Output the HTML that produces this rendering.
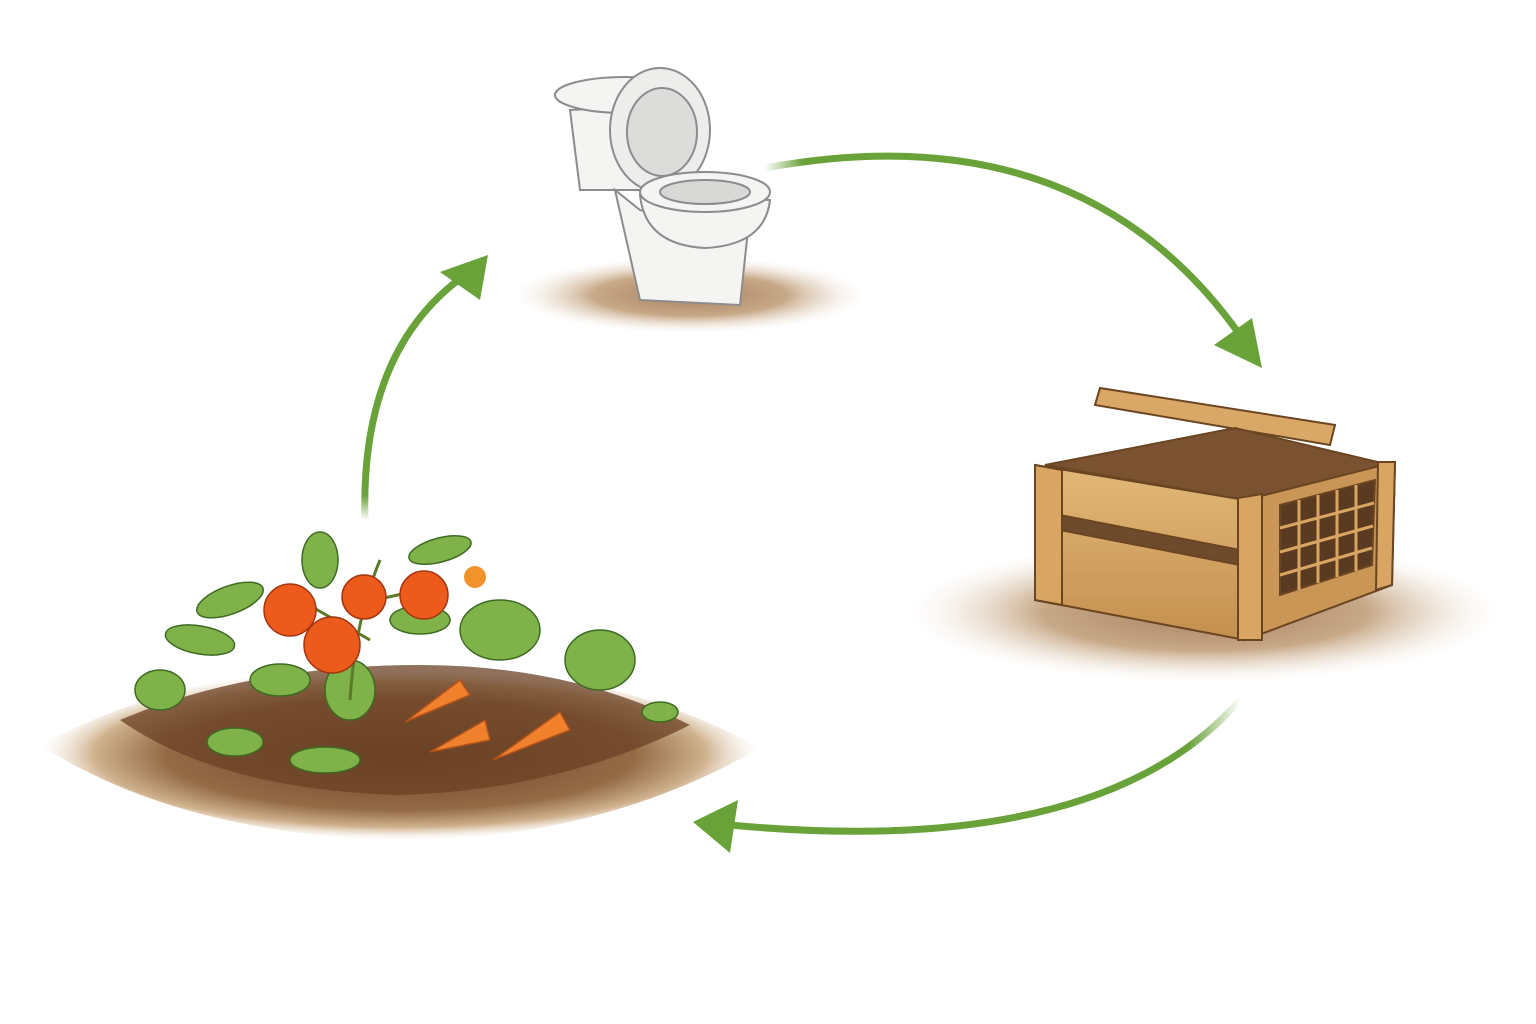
<!DOCTYPE html>
<html><head><meta charset="utf-8"><style>
html,body{margin:0;padding:0;background:#fff;}
svg{display:block;}
</style></head><body>
<svg width="1536" height="1024" viewBox="0 0 1536 1024" xmlns="http://www.w3.org/2000/svg">
<defs>
<radialGradient id="dirt" cx="50%" cy="50%" r="50%">
<stop offset="0" stop-color="#a98160"/><stop offset="0.55" stop-color="#c7a887"/><stop offset="1" stop-color="#f2e8dc" stop-opacity="0"/>
</radialGradient>
<radialGradient id="dirt2" cx="50%" cy="50%" r="50%">
<stop offset="0" stop-color="#6b4226"/><stop offset="0.65" stop-color="#946a46"/><stop offset="0.85" stop-color="#d0b28e"/><stop offset="1" stop-color="#f0e4d4" stop-opacity="0"/>
</radialGradient>
<linearGradient id="fade1" x1="0" y1="0" x2="1" y2="0"><stop offset="0" stop-color="#6aa23a" stop-opacity="0"/><stop offset="0.08" stop-color="#6aa23a"/><stop offset="1" stop-color="#6aa23a"/></linearGradient>
<linearGradient id="fade2" x1="1" y1="0" x2="0" y2="0"><stop offset="0" stop-color="#6aa23a" stop-opacity="0"/><stop offset="0.1" stop-color="#6aa23a"/><stop offset="1" stop-color="#6aa23a"/></linearGradient>
<linearGradient id="fade3" x1="0" y1="1" x2="0" y2="0"><stop offset="0" stop-color="#6aa23a" stop-opacity="0"/><stop offset="0.1" stop-color="#6aa23a"/><stop offset="1" stop-color="#6aa23a"/></linearGradient>
<linearGradient id="wood" x1="0" y1="0" x2="0" y2="1"><stop offset="0" stop-color="#e2b878"/><stop offset="1" stop-color="#c48f4e"/></linearGradient>
</defs>

<ellipse cx="690" cy="295" rx="175" ry="38" fill="url(#dirt)"/>
<g stroke="#8c8c8c" stroke-width="2" fill="#f4f4f2">
<path d="M570 110 L660 105 L655 190 L580 190 Z"/>
<ellipse cx="625" cy="95" rx="70" ry="18"/>
<path d="M615 190 L640 300 L740 305 L748 230 L640 210 Z"/>
<ellipse cx="660" cy="130" rx="50" ry="62" fill="#ededeb"/>
<ellipse cx="662" cy="132" rx="35" ry="44" fill="#dcdcda"/>
<path d="M640 195 Q645 245 705 248 Q765 245 770 200 Z"/>
<ellipse cx="705" cy="192" rx="65" ry="20"/>
<ellipse cx="705" cy="192" rx="45" ry="12" fill="#d8d8d6"/>
</g>

<path d="M765 168 Q1080 110 1240 335" fill="none" stroke="url(#fade1)" stroke-width="7"/>
<polygon points="1262,368 1214,345 1252,318" fill="#6aa23a"/>

<ellipse cx="1205" cy="612" rx="295" ry="70" fill="url(#dirt)"/>
<g stroke="#6b4522" stroke-width="2">
<polygon points="1100,388 1335,425 1330,445 1095,405" fill="#d9a766"/>
<polygon points="1045,465 1235,428 1390,465 1245,500" fill="#7a5232"/>
<polygon points="1035,465 1245,500 1245,640 1035,600" fill="url(#wood)"/>
<polygon points="1245,500 1395,462 1392,585 1245,640" fill="#c99656"/>
<polygon points="1060,515 1240,550 1240,565 1060,530" fill="#6e4a2c"/>
<polygon points="1280,505 1375,480 1372,565 1280,595" fill="#5a3a20"/>
<polygon points="1035,465 1062,470 1062,605 1035,600" fill="#d8a562"/>
<polygon points="1238,498 1262,494 1262,640 1238,640" fill="#d8a562"/>
<polygon points="1378,462 1395,462 1392,585 1376,590" fill="#d8a562"/>
</g>
<g stroke="#d8a562" stroke-width="3">
<line x1="1299" y1="500" x2="1299" y2="590"/><line x1="1318" y1="495" x2="1318" y2="583"/><line x1="1337" y1="490" x2="1337" y2="577"/><line x1="1356" y1="485" x2="1356" y2="571"/>
<line x1="1280" y1="528" x2="1374" y2="503"/><line x1="1280" y1="552" x2="1373" y2="526"/><line x1="1280" y1="575" x2="1372" y2="548"/>
</g>

<path d="M1240 700 Q1100 860 730 825" fill="none" stroke="url(#fade2)" stroke-width="7"/>
<polygon points="693,822 738,800 730,853" fill="#6aa23a"/>

<path d="M365 520 Q360 350 465 275" fill="none" stroke="url(#fade3)" stroke-width="7"/>
<polygon points="488,255 440,272 480,300" fill="#6aa23a"/>

<path d="M40 745 Q200 660 400 670 Q600 660 760 748 Q600 840 400 840 Q180 835 40 745 Z" fill="url(#dirt2)"/>
<path d="M120 720 Q250 665 420 665 Q570 665 690 725 Q560 790 400 795 Q220 790 120 720 Z" fill="#6b4226" opacity="0.75"/>
<g fill="#7fb34a" stroke="#3f6a22" stroke-width="1.5">
<ellipse cx="230" cy="600" rx="35" ry="14" transform="rotate(-20 230 600)"/>
<ellipse cx="200" cy="640" rx="35" ry="14" transform="rotate(10 200 640)"/>
<ellipse cx="320" cy="560" rx="18" ry="28"/>
<ellipse cx="440" cy="550" rx="32" ry="12" transform="rotate(-15 440 550)"/>
<ellipse cx="420" cy="620" rx="30" ry="14"/>
<ellipse cx="280" cy="680" rx="30" ry="16"/>
<ellipse cx="350" cy="690" rx="25" ry="30"/>
<ellipse cx="160" cy="690" rx="25" ry="20"/>
<ellipse cx="235" cy="742" rx="28" ry="14"/>
<ellipse cx="325" cy="760" rx="35" ry="13"/>
<ellipse cx="500" cy="630" rx="40" ry="30"/>
<ellipse cx="600" cy="660" rx="35" ry="30"/>
<ellipse cx="660" cy="712" rx="18" ry="10"/>
</g>
<g stroke="#5a7a2a" stroke-width="3" fill="none">
<path d="M350 700 Q355 620 380 560"/><path d="M370 640 L300 600"/><path d="M375 600 L420 590"/>
</g>
<g fill="#ec5a1c" stroke="#a23510" stroke-width="1.5">
<circle cx="290" cy="610" r="26"/><circle cx="364" cy="597" r="22"/><circle cx="424" cy="595" r="24"/><circle cx="332" cy="645" r="28"/>
</g>
<circle cx="475" cy="577" r="11" fill="#f2922a"/>
<g fill="#f0802c" stroke="#b0501a" stroke-width="1.5">
<path d="M405 722 L460 680 L470 695 Z"/>
<path d="M430 752 L485 720 L490 740 Z"/>
<path d="M493 760 L560 712 L570 730 Z"/>
</g>
</svg>
</body></html>
